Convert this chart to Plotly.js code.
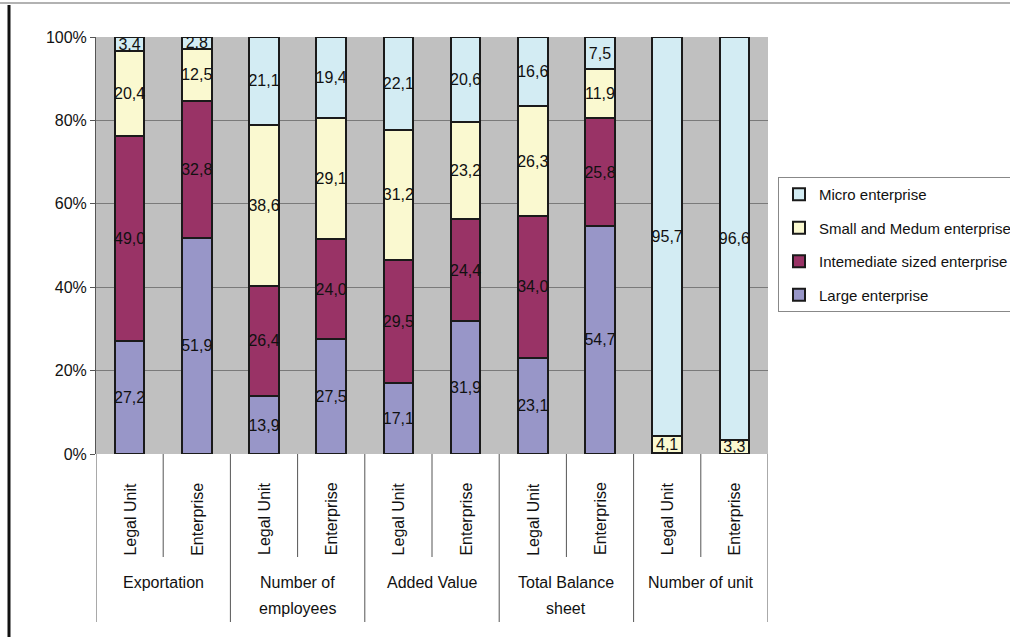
<!DOCTYPE html>
<html>
<head>
<meta charset="utf-8">
<script src="https://cdn.plot.ly/plotly-3.0.1.min.js"></script>
<style>html,body{margin:0;padding:0;background:#fff;}#chart{width:1010px;height:637px;}</style>
</head>
<body>
<div id="chart"></div>
<script>
// ---- data ----
var groups = ['Exportation', 'Number of\nemployees', 'Added Value', 'Total Balance\nsheet', 'Number of unit'];
var subLabels = ['Legal Unit', 'Enterprise'];
var seriesNames = ['Large enterprise', 'Intemediate sized enterprise', 'Small and Medum enterprise', 'Micro enterprise'];
var large        = [27.2, 51.9, 13.9, 27.5, 17.1, 31.9, 23.1, 54.7, 0.0, 0.0];
var intermediate = [49.0, 32.8, 26.4, 24.0, 29.5, 24.4, 34.0, 25.8, 0.2, 0.1];
var smallMedium  = [20.4, 12.5, 38.6, 29.1, 31.2, 23.2, 26.3, 11.9, 4.1, 3.3];
var micro        = [3.4, 2.8, 21.1, 19.4, 22.1, 20.6, 16.6, 7.5, 95.7, 96.6];
var yTicks = [0, 20, 40, 60, 80, 100];

// ---- styling ----
var colors = ['#9896c8', '#993366', '#faf9d0', '#d3ecf3'];
var FONT = "'Liberation Sans', Arial, sans-serif";
var seriesVals = [large, intermediate, smallMedium, micro];
var nBars = large.length;
var xs = [];
for (var i = 0; i < nBars; i++) xs.push(i);

var fmt = function (v) { return v.toFixed(1).replace('.', ','); };

var traces = seriesVals.map(function (vals, k) {
  return {
    type: 'bar',
    x: xs,
    y: vals,
    name: seriesNames[k],
    legendgroup: 'g' + k,
    legendrank: 1000 - k,
    width: 0.44,
    marker: {color: colors[k], line: {color: '#1a1a1a', width: 2}},
    text: vals.map(fmt),
    textposition: 'inside',
    insidetextanchor: 'middle',
    textangle: 0,
    textfont: {family: FONT, size: 16, color: '#111'},
    hoverinfo: 'skip'
  };
});

// pixel helpers (plot area: top 37, bottom 454)
var PT = 37, PB = 454, PH = PB - PT;
function py(px) { return (PB - px) / PH; }
var PL = 96, PR = 768, PW = PR - PL;
function pxp(px) { return (px - PL) / PW; }

var annotations = [];
var shapes = [];
// sub labels
for (var i = 0; i < nBars; i++) {
  annotations.push({
    x: xs[i], xref: 'x', y: py(519), yref: 'paper',
    text: subLabels[i % 2], textangle: -90, showarrow: false,
    xanchor: 'center', yanchor: 'middle',
    font: {family: FONT, size: 16, color: '#111'}
  });
}
// group labels
groups.forEach(function (g, gi) {
  var lines = g.split('\n');
  lines.forEach(function (ln, li) {
    annotations.push({
      x: gi * 2 + 0.5, xref: 'x', y: py(582 + li * 26), yref: 'paper',
      text: ln, showarrow: false, xanchor: 'center', yanchor: 'middle',
      font: {family: FONT, size: 16, color: '#111'}
    });
  });
});
// separators
for (var gi = 0; gi <= groups.length; gi++) {
  shapes.push({type: 'line', xref: 'x', yref: 'paper', x0: gi * 2 - 0.5, x1: gi * 2 - 0.5,
    y0: 0, y1: py(622), line: {color: '#555', width: 1}});
}
for (var gi = 0; gi < groups.length; gi++) {
  shapes.push({type: 'line', xref: 'x', yref: 'paper', x0: gi * 2 + 0.5, x1: gi * 2 + 0.5,
    y0: 0, y1: py(557), line: {color: '#555', width: 1}});
}
// figure frame lines
shapes.push({type: 'line', xref: 'paper', yref: 'paper', x0: pxp(0), x1: pxp(1010), y0: py(3), y1: py(3),
  line: {color: '#999', width: 1.5}});
shapes.push({type: 'line', xref: 'paper', yref: 'paper', x0: pxp(9), x1: pxp(9), y0: py(5), y1: py(637),
  line: {color: '#111', width: 3}});

var layout = {
  width: 1010, height: 637,
  margin: {l: PL, r: 1010 - PR, t: PT, b: 637 - PB, pad: 0, autoexpand: false},
  barmode: 'stack',
  paper_bgcolor: '#ffffff',
  plot_bgcolor: '#c0c0c0',
  showlegend: true,
  uniformtext: {minsize: 16, mode: 'show'},
  xaxis: {
    range: [-0.5, nBars - 0.5],
    showticklabels: false, ticks: '', showgrid: false, zeroline: false,
    showline: false, fixedrange: true
  },
  yaxis: {
    range: [0, 100],
    tickvals: yTicks,
    ticktext: yTicks.map(function (t) { return t + '%'; }),
    ticks: 'outside', ticklen: 5, tickcolor: '#555',
    showline: true, linecolor: '#555', linewidth: 1,
    showgrid: true, gridcolor: '#7a7a7a', gridwidth: 1,
    zeroline: false,
    tickfont: {family: FONT, size: 16, color: '#111'}
  },
  legend: {
    x: pxp(778), xanchor: 'left', y: py(177), yanchor: 'top',
    traceorder: 'grouped', tracegroupgap: 11,
    bordercolor: '#888', borderwidth: 1, bgcolor: '#ffffff',
    font: {family: FONT, size: 15, color: '#111'},
    itemwidth: 30
  },
  annotations: annotations,
  shapes: shapes
};

Plotly.newPlot('chart', traces, layout, {displayModeBar: false, staticPlot: true});
</script>
</body>
</html>
